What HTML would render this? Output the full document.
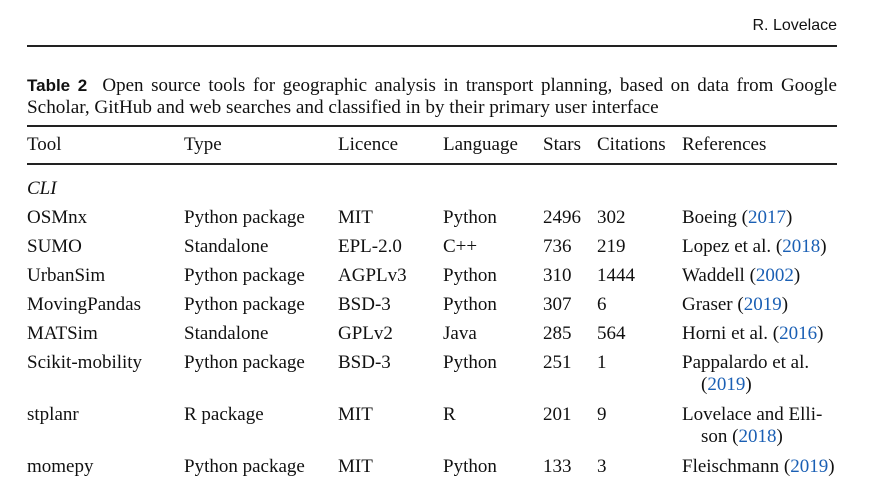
<!DOCTYPE html>
<html><head><meta charset="utf-8"><style>
body{margin:0;width:875px;height:483px;background:#fff;position:relative;overflow:hidden;font-family:"Liberation Serif",serif;color:#111;font-size:19px}
.t{position:absolute;line-height:22px;white-space:nowrap}
.r{position:absolute;left:27px;width:810px;background:#222}
.y{color:#1a5fb4}
.cap1{position:absolute;left:27px;top:75px;width:810px;line-height:22px;text-align:justify;text-align-last:justify;white-space:normal;font-size:19px}
.cap2{position:absolute;left:27px;top:97px;line-height:22px;white-space:nowrap;font-size:19.2px}
</style></head><body>
<div class="t" style="right:38px;top:15px;font-family:'Liberation Sans',sans-serif;font-size:16px">R. Lovelace</div>
<div class="r" style="top:45px;height:2px"></div>
<div class="cap1"><b style="font-family:'Liberation Sans',sans-serif;font-size:17px">Table 2</b>&nbsp; Open source tools for geographic analysis in transport planning, based on data from Google</div>
<div class="cap2">Scholar, GitHub and web searches and classified in by their primary user interface</div>
<div class="r" style="top:125px;height:1.5px"></div>
<div class="r" style="top:163px;height:1.5px"></div>
<div id="tbl"></div>
<script>
const cols=[27,184,338,443,543,597,682];
const head=["Tool","Type","Licence","Language","Stars","Citations","References"];
const rows=[
["OSMnx","Python package","MIT","Python","2496","302","Boeing (<span class=y>2017</span>)"],
["SUMO","Standalone","EPL-2.0","C++","736","219","Lopez et al. (<span class=y>2018</span>)"],
["UrbanSim","Python package","AGPLv3","Python","310","1444","Waddell (<span class=y>2002</span>)"],
["MovingPandas","Python package","BSD-3","Python","307","6","Graser (<span class=y>2019</span>)"],
["MATSim","Standalone","GPLv2","Java","285","564","Horni et al. (<span class=y>2016</span>)"],
["Scikit-mobility","Python package","BSD-3","Python","251","1","Pappalardo et al.<br>&nbsp;&nbsp;&nbsp;&nbsp;(<span class=y>2019</span>)"],
["stplanr","R package","MIT","R","201","9","Lovelace and Elli-<br>&nbsp;&nbsp;&nbsp;&nbsp;son (<span class=y>2018</span>)"],
["momepy","Python package","MIT","Python","133","3","Fleischmann (<span class=y>2019</span>)"]];
const rowY=[218,247,276,305,334,363,415,467];
const tb=document.getElementById('tbl');
function put(x,y,html,name){const d=document.createElement('div');d.className='t';d.style.left=x+'px';d.style.top=(y-11)+'px';d.innerHTML=html;


tb.appendChild(d);}
head.forEach((h,i)=>put(cols[i],145,h,'col-header-'+h.toLowerCase()));
put(27,189,'<i>CLI</i>','section-cli');
rows.forEach((r,j)=>r.forEach((c,i)=>put(cols[i],rowY[j],c,'cell-'+r[0].toLowerCase()+'-'+head[i].toLowerCase())));
</script>
</body></html>
